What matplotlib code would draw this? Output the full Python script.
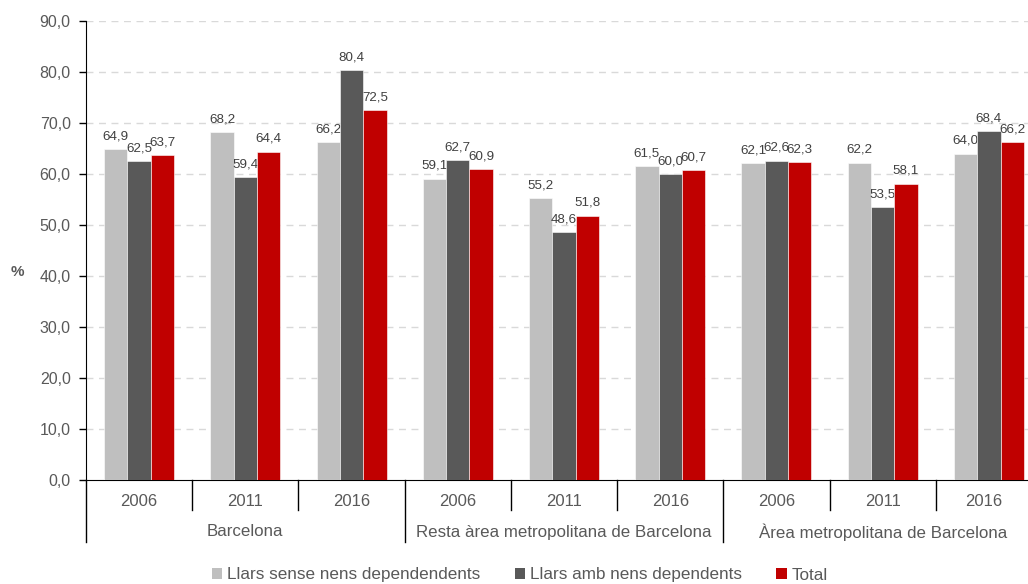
import matplotlib
matplotlib.use("Agg")
import matplotlib.pyplot as plt
import numpy as np
from matplotlib.transforms import blended_transform_factory
from matplotlib.lines import Line2D
from matplotlib.patches import Patch

plt.rcParams['font.family'] = ['Liberation Sans', 'DejaVu Sans']

years = ["2006", "2011", "2016"] * 3
regions = ["Barcelona", "Resta àrea metropolitana de Barcelona", "Àrea metropolitana de Barcelona"]
series_names = ["Llars sense nens dependendents", "Llars amb nens dependents", "Total"]
sense_nens = [64.9, 68.2, 66.2, 59.1, 55.2, 61.5, 62.1, 62.2, 64.0]
amb_nens = [62.5, 59.4, 80.4, 62.7, 48.6, 60.0, 62.6, 53.5, 68.4]
total = [63.7, 64.4, 72.5, 60.9, 51.8, 60.7, 62.3, 58.1, 66.2]

colors = ["#BFBFBF", "#595959", "#C00000"]
txt = "#595959"

W, H = 1028, 584
fig = plt.figure(figsize=(W/100, H/100), dpi=100)
ax = fig.add_axes([86/W, 1-480/H, (1042-86)/W, (480-21)/H])

x = np.arange(9) + 0.5
bw = 0.22
for k, vals in enumerate([sense_nens, amb_nens, total]):
    xs = x + (k-1)*bw
    ax.bar(xs, vals, width=bw, color=colors[k], edgecolor='white', linewidth=0.4, zorder=3)
    for xi, v in zip(xs, vals):
        ax.annotate(f"{v:.1f}".replace(".", ","), (xi, v), xytext=(0, 5), textcoords='offset points',
                    ha='center', va='bottom', fontsize=9.6, color='#404040')

ax.set_xlim(0, 9)
ax.set_ylim(0, 90)
ax.set_yticks(np.arange(0, 91, 10))
ax.set_yticklabels([f"{t:.1f}".replace(".", ",") for t in np.arange(0, 91, 10)], fontsize=11.5, color=txt)
ax.tick_params(axis='y', direction='out', length=5, color='black', width=1, pad=6)
ax.set_xticks([])
for t in np.arange(10, 91, 10):
    ax.axhline(t, color='#D9D9D9', linestyle=(0, (5, 4)), linewidth=1, zorder=1)
for s in ['top', 'right']:
    ax.spines[s].set_visible(False)
ax.spines['left'].set_color('black')
ax.spines['bottom'].set_color('black')

tr = blended_transform_factory(ax.transData, fig.transFigure)
def fy(py):
    return 1 - py/H
for b in range(10):
    long = b % 3 == 0
    y2 = 542 if long else 510
    ax.add_line(Line2D([b, b], [fy(480), fy(y2)], transform=tr, color='black', linewidth=1, clip_on=False))
for i in range(9):
    cx = x[i] if i < 8 else 8.45
    ax.text(cx, fy(502), years[i], transform=tr, ha='center', va='center', fontsize=12, color=txt)
for r in range(3):
    ax.text(3*r+1.5, fy(532), regions[r], transform=tr, ha='center', va='center', fontsize=12.2, color=txt)

fig.text(17/W, fy(272), "%", ha='center', va='center', fontsize=11, fontweight='bold', color=txt)

handles = [Patch(facecolor=c, edgecolor='none') for c in colors]
fig.legend(handles, series_names, loc='center', bbox_to_anchor=(520/W, fy(575)), ncol=3, frameon=False,
           fontsize=12.3, handlelength=0.6, handleheight=0.6, handletextpad=0.3, columnspacing=2.0,
           labelcolor=txt, borderpad=0)

fig.savefig("out.png", dpi=100)
